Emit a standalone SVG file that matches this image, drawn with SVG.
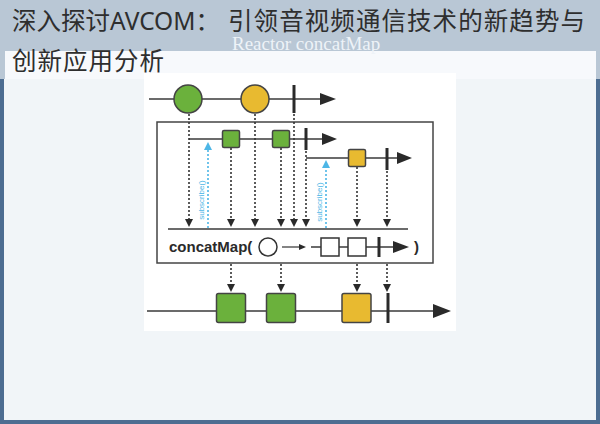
<svg xmlns="http://www.w3.org/2000/svg" width="600" height="424" viewBox="0 0 600 424">
<defs>
<style>
.ttl{font-family:"Noto Sans","Noto Sans CJK SC",sans-serif;font-size:24.5px;fill:#2e2e2e}
.cap{font-family:"Liberation Serif",serif;font-size:19px;fill:#eef3f8}
.ln{stroke:#3a3a3a;stroke-width:1.5;fill:none}
.bar{stroke:#2a2a2a;stroke-width:3}
.dot{stroke:#333;stroke-width:1.6;stroke-dasharray:2 2;fill:none}
.bdot{stroke:#4db6e6;stroke-width:1.6;stroke-dasharray:2 2;fill:none}
.head{fill:#2a2a2a}
.bhead{fill:#4db6e6}
.g{fill:#6bb13c;stroke:#444;stroke-width:1.5}
.y{fill:#e8ba30;stroke:#444;stroke-width:1.5}
.w{fill:#fff;stroke:#333;stroke-width:1.5}
.sub{font-family:"Liberation Sans",sans-serif;font-size:8px;fill:#4db6e6}
.op{font-family:"Liberation Sans",sans-serif;font-size:15px;font-weight:bold;fill:#2a2a2a}
</style>
</defs>
<g id="page">
<rect x="0" y="0" width="600" height="424" fill="#4d6d91"/>
<rect x="0" y="0" width="600" height="79" fill="#b9c7d5"/>
<rect x="4" y="79" width="592" height="341" fill="#f1f5f8"/>
<rect x="5" y="51" width="591" height="28" fill="#f7f9fc"/>
<rect x="144" y="73" width="312" height="258" fill="#ffffff"/>
</g>
<g id="title">
<text class="ttl" x="12" y="30">深入探讨AVCOM：<tspan x="228" textLength="357" lengthAdjust="spacing">引领音视频通信技术的新趋势与</tspan></text>
<text class="ttl" x="12" y="70" textLength="152" lengthAdjust="spacing">创新应用分析</text>
<text class="cap" x="232" y="50">Reactor concatMap</text>
</g>
<g id="source">
<line class="ln" x1="149" y1="99" x2="322" y2="99"/>
<polygon class="head" points="320,93 336,99 320,105"/>
<circle class="g" cx="188" cy="99" r="14"/>
<circle class="y" cx="255" cy="99" r="14"/>
<line class="bar" x1="294" y1="85" x2="294" y2="113"/>
</g>
<g id="operator-box">
<rect x="157" y="122" width="276" height="141" fill="#fff" stroke="#444" stroke-width="1.5"/>
</g>
<g id="inner1">
<line class="ln" x1="189" y1="139" x2="324" y2="139"/>
<polygon class="head" points="322,133 337,139 322,145"/>
<rect class="g" x="222.5" y="130.5" width="17" height="17" rx="1.5"/>
<rect class="g" x="272.5" y="130.5" width="17" height="17" rx="1.5"/>
<line class="bar" x1="306" y1="128" x2="306" y2="150"/>
</g>
<g id="inner2">
<line class="ln" x1="306" y1="158" x2="399" y2="158"/>
<polygon class="head" points="397,152 412,158 397,164"/>
<rect class="y" x="348.5" y="149.5" width="17" height="17" rx="1.5"/>
<line class="bar" x1="387" y1="148" x2="387" y2="170"/>
</g>
<g id="subscribe1">
<text class="sub" transform="translate(204,200) rotate(-90)" text-anchor="middle">subscribe()</text>
</g>
<g id="subscribe2">
<text class="sub" transform="translate(322,202) rotate(-90)" text-anchor="middle">subscribe()</text>
</g>
<g id="operator-label">
<line class="ln" x1="168" y1="229" x2="408" y2="229"/>
<text class="op" x="169" y="252">concatMap(</text>
<circle cx="268" cy="247" r="9" fill="#fff" stroke="#333" stroke-width="1.5"/>
<line x1="282" y1="247" x2="300" y2="247" stroke="#333" stroke-width="1.2"/>
<polygon class="head" points="299,244 306,247 299,250"/>
<line class="ln" x1="311" y1="247" x2="395" y2="247"/>
<polygon class="head" points="393,241 409,247 393,253"/>
<rect class="w" x="321" y="238" width="18" height="18"/>
<rect class="w" x="348" y="238" width="18" height="18"/>
<line class="bar" x1="379" y1="237" x2="379" y2="257"/>
<text class="op" x="414" y="252">)</text>
</g>
<g id="output">
<line class="ln" x1="147" y1="311" x2="435" y2="311"/>
<polygon class="head" points="433,304 451,311 433,318"/>
<rect class="g" x="216.5" y="293.5" width="29" height="29" rx="2"/>
<rect class="g" x="266.5" y="293.5" width="29" height="29" rx="2"/>
<rect class="y" x="342" y="293.5" width="29" height="29" rx="2"/>
<line class="bar" x1="388" y1="293" x2="388" y2="323"/>
</g>
<g id="connectors">
<line class="dot" x1="189" y1="114" x2="189" y2="219"/>
<line class="dot" x1="255" y1="114" x2="255" y2="219"/>
<line class="dot" x1="294" y1="114" x2="294" y2="219"/>
<line class="dot" x1="231" y1="148" x2="231" y2="219"/>
<line class="dot" x1="281" y1="148" x2="281" y2="219"/>
<line class="dot" x1="306" y1="151" x2="306" y2="219"/>
<line class="dot" x1="357" y1="167" x2="357" y2="219"/>
<line class="dot" x1="387" y1="171" x2="387" y2="219"/>
<g class="head">
<polygon points="185,219 193,219 189,227"/>
<polygon points="251,219 259,219 255,227"/>
<polygon points="290,219 298,219 294,227"/>
<polygon points="227,219 235,219 231,227"/>
<polygon points="277,219 285,219 281,227"/>
<polygon points="302,219 310,219 306,227"/>
<polygon points="353,219 361,219 357,227"/>
<polygon points="383,219 391,219 387,227"/>
</g>
<line class="bdot" x1="208" y1="228" x2="208" y2="150"/>
<polygon class="bhead" points="204,150 212,150 208,142"/>
<line class="bdot" x1="326" y1="228" x2="326" y2="168"/>
<polygon class="bhead" points="322,168 330,168 326,160"/>
<line class="dot" x1="231" y1="264" x2="231" y2="284"/>
<line class="dot" x1="281" y1="264" x2="281" y2="284"/>
<line class="dot" x1="357" y1="264" x2="357" y2="284"/>
<line class="dot" x1="387" y1="264" x2="387" y2="284"/>
<g class="head">
<polygon points="227,284 235,284 231,292"/>
<polygon points="277,284 285,284 281,292"/>
<polygon points="353,284 361,284 357,292"/>
<polygon points="383,284 391,284 387,292"/>
</g>
</g>
</svg>
